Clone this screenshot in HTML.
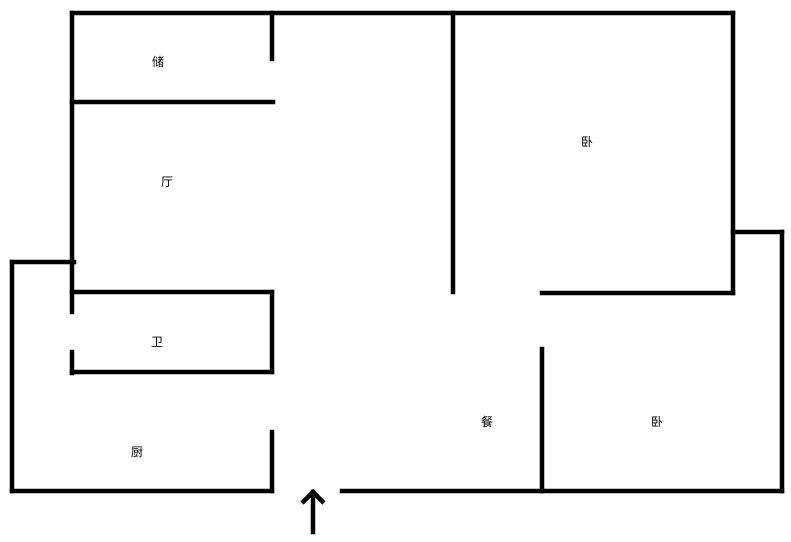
<!DOCTYPE html>
<html><head><meta charset="utf-8"><style>
html,body{margin:0;padding:0;background:#fff;}
svg{display:block;}
text{font-family:"Liberation Sans","Noto Sans CJK SC",sans-serif;font-size:12px;fill:#000;}
</style></head><body>
<svg width="791" height="542" viewBox="0 0 791 542" xmlns="http://www.w3.org/2000/svg">
<g stroke="#000" stroke-width="4.5" stroke-linecap="square" fill="none">
<line x1="72" y1="13" x2="733" y2="13"/>
<line x1="72" y1="13" x2="72" y2="312"/>
<line x1="72" y1="352" x2="72" y2="373"/>
<line x1="272" y1="13" x2="272" y2="59"/>
<line x1="72" y1="102" x2="273" y2="102"/>
<line x1="453" y1="13" x2="453" y2="292"/>
<line x1="733" y1="13" x2="733" y2="293"/>
<line x1="542" y1="293" x2="733" y2="293"/>
<line x1="733" y1="232" x2="782" y2="232"/>
<line x1="782" y1="232" x2="782" y2="491"/>
<line x1="342" y1="491" x2="782" y2="491"/>
<line x1="542" y1="349" x2="542" y2="491"/>
<line x1="12" y1="262" x2="74" y2="262"/>
<line x1="12" y1="262" x2="12" y2="491"/>
<line x1="12" y1="491" x2="272" y2="491"/>
<line x1="72" y1="292" x2="272" y2="292"/>
<line x1="272" y1="292" x2="272" y2="372"/>
<line x1="72" y1="372" x2="272" y2="372"/>
<line x1="272" y1="432" x2="272" y2="491"/>
<line x1="313" y1="492" x2="313" y2="532"/>
<polyline points="302,503 313,492 324,503" stroke-linecap="butt"/>
</g>
<text x="152" y="66">储</text>
<text x="161" y="186">厅</text>
<text x="151" y="346">卫</text>
<text x="131" y="456">厨</text>
<text x="581" y="146">卧</text>
<text x="481" y="426">餐</text>
<text x="651" y="426">卧</text>
</svg>
</body></html>
